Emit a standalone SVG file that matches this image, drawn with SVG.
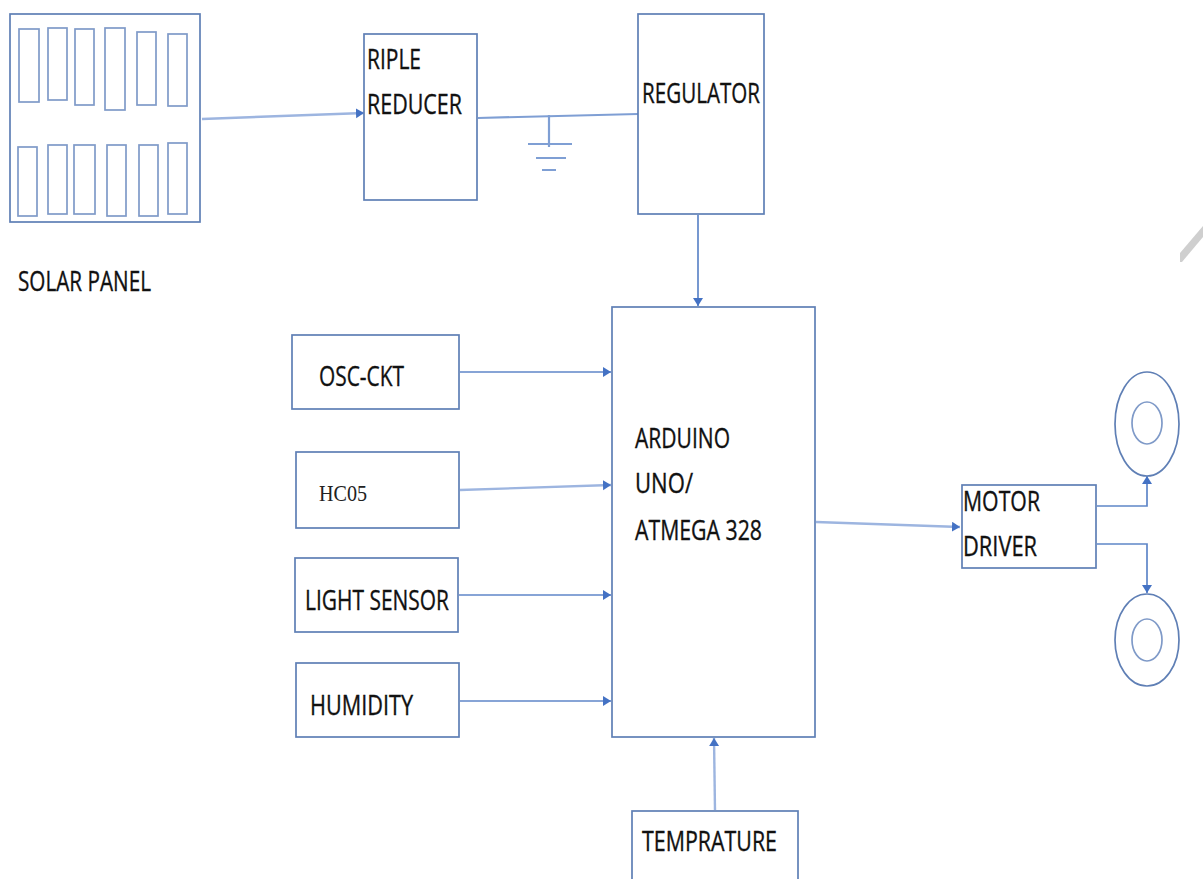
<svg xmlns="http://www.w3.org/2000/svg" width="1203" height="879" viewBox="0 0 1203 879">
<style>
.b{fill:#fff;stroke:#5f7fb5;stroke-width:1.7}
.c{fill:none;stroke:#7f9ac8;stroke-width:1.7}
.l{fill:none;stroke:#5f86c8;stroke-width:1.7}
.f{fill:none;stroke:#9db5e0;stroke-width:2.4}
.g{fill:none;stroke:#7f9fd4;stroke-width:2.2}
.t{font-family:"Open Sans","Liberation Sans",sans-serif;font-size:27px;fill:#111;stroke:#111;stroke-width:.35}
.s{font-family:"Liberation Serif",serif;font-size:24px;fill:#222}
</style>
<defs>
<marker id="a" markerUnits="userSpaceOnUse" markerWidth="10" markerHeight="12" refX="8" refY="5" orient="auto"><path d="M0 0L8 5L0 10Z" fill="#4472c4"/></marker>
</defs>
<rect width="1203" height="879" fill="#fff"/>
<g id="connectors">
<path class="f" marker-end="url(#a)" d="M202 119L364 113"/>
<path class="g" d="M478 118L638 114"/>
<path class="l" marker-end="url(#a)" d="M698 215V306"/>
<path class="l" marker-end="url(#a)" d="M460 372H611"/>
<path class="f" marker-end="url(#a)" d="M460 490L611 485"/>
<path class="l" marker-end="url(#a)" d="M459 595H611"/>
<path class="l" marker-end="url(#a)" d="M460 701H611"/>
<path class="f" marker-end="url(#a)" d="M715 810L714 738"/>
<path class="f" marker-end="url(#a)" d="M816 522L960 527"/>
<path class="l" marker-end="url(#a)" d="M1097 506H1147V476"/>
<path class="l" marker-end="url(#a)" d="M1097 544H1147V593"/>
</g>
<g id="ground">
<path class="g" d="M549 115V147M528 144H572M536 158H566M542 170H556"/>
</g>
<g id="solar-panel">
<rect class="b" x="10" y="14" width="190" height="208"/>
<rect class="c" x="19" y="29" width="20" height="73"/>
<rect class="c" x="48" y="28" width="19" height="72"/>
<rect class="c" x="75" y="29" width="19" height="76"/>
<rect class="c" x="105" y="28" width="20" height="82"/>
<rect class="c" x="137" y="32" width="19" height="73"/>
<rect class="c" x="168" y="34" width="19" height="72"/>
<rect class="c" x="18" y="147" width="19" height="69"/>
<rect class="c" x="48" y="145" width="19" height="69"/>
<rect class="c" x="74" y="145" width="21" height="69"/>
<rect class="c" x="107" y="145" width="19" height="71"/>
<rect class="c" x="139" y="145" width="19" height="71"/>
<rect class="c" x="168" y="143" width="19" height="71"/>
<text class="t" x="18" y="291" textLength="133" lengthAdjust="spacingAndGlyphs">SOLAR PANEL</text>
</g>
<g id="ripple-reducer">
<rect class="b" x="364" y="34" width="113" height="166"/>
<text class="t" x="367" y="69" textLength="54" lengthAdjust="spacingAndGlyphs">RIPLE</text>
<text class="t" x="367" y="114" textLength="95" lengthAdjust="spacingAndGlyphs">REDUCER</text>
</g>
<g id="regulator">
<rect class="b" x="638" y="14" width="126" height="200"/>
<text class="t" x="642" y="103" textLength="118" lengthAdjust="spacingAndGlyphs">REGULATOR</text>
</g>
<g id="arduino">
<rect class="b" x="612" y="307" width="203" height="430"/>
<text class="t" x="635" y="448" textLength="95" lengthAdjust="spacingAndGlyphs">ARDUINO</text>
<text class="t" x="635" y="493" textLength="58" lengthAdjust="spacingAndGlyphs">UNO/</text>
<text class="t" x="635" y="540" textLength="127" lengthAdjust="spacingAndGlyphs">ATMEGA 328</text>
</g>
<g id="osc-ckt">
<rect class="b" x="292" y="335" width="167" height="74"/>
<text class="t" x="319" y="386" textLength="85" lengthAdjust="spacingAndGlyphs">OSC-CKT</text>
</g>
<g id="hc05">
<rect class="b" x="296" y="452" width="163" height="76"/>
<text class="s" x="319" y="501" textLength="48" lengthAdjust="spacingAndGlyphs">HC05</text>
</g>
<g id="light-sensor">
<rect class="b" x="295" y="558" width="163" height="74"/>
<text class="t" x="305" y="610" textLength="144" lengthAdjust="spacingAndGlyphs">LIGHT SENSOR</text>
</g>
<g id="humidity">
<rect class="b" x="296" y="663" width="163" height="74"/>
<text class="t" x="310" y="715" textLength="103" lengthAdjust="spacingAndGlyphs">HUMIDITY</text>
</g>
<g id="temprature">
<rect class="b" x="632" y="811" width="166" height="80"/>
<text class="t" x="642" y="851" textLength="135" lengthAdjust="spacingAndGlyphs">TEMPRATURE</text>
</g>
<g id="motor-driver">
<rect class="b" x="962" y="485" width="134" height="83"/>
<text class="t" x="963" y="511" textLength="77" lengthAdjust="spacingAndGlyphs">MOTOR</text>
<text class="t" x="963" y="556" textLength="74" lengthAdjust="spacingAndGlyphs">DRIVER</text>
</g>
<g id="wheel-top">
<ellipse class="b" cx="1147" cy="424" rx="32" ry="52"/>
<ellipse class="c" cx="1147" cy="423" rx="15" ry="21"/>
</g>
<g id="wheel-bottom">
<ellipse class="b" cx="1147" cy="640" rx="32" ry="46"/>
<ellipse class="c" cx="1147" cy="640" rx="15" ry="21"/>
</g>
<path d="M1180 253L1203 226V237L1182 262H1180Z" fill="#cfcfcf"/>
</svg>
